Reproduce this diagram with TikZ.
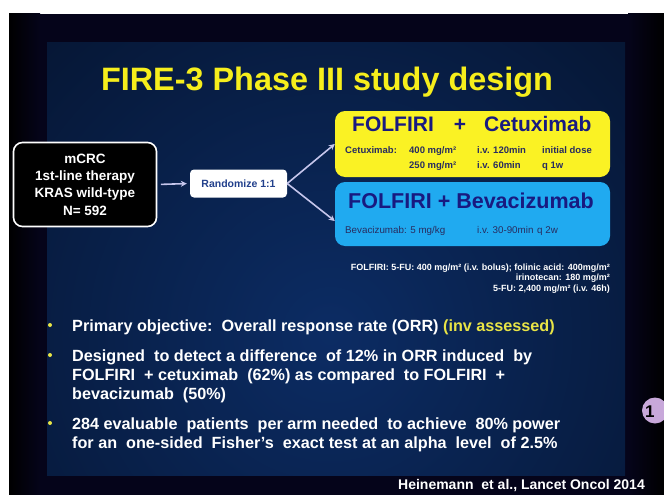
\documentclass[tikz,border=0pt]{standalone}
\usepackage{fontspec}
\setmainfont{Liberation Sans}
\usetikzlibrary{arrows.meta}

\definecolor{titleyellow}{RGB}{246,238,28}
\definecolor{armyellow}{RGB}{250,242,36}
\definecolor{armblue}{RGB}{32,170,240}
\definecolor{armtext}{RGB}{24,26,128}
\definecolor{detailtext}{RGB}{40,44,96}
\definecolor{randtext}{RGB}{34,64,140}
\definecolor{arrowlav}{RGB}{198,198,236}
\definecolor{bulletyellow}{RGB}{232,228,70}
\definecolor{slidedark}{RGB}{5,4,26}
\definecolor{panelin}{RGB}{12,44,100}
\definecolor{panelout}{RGB}{3,14,34}
\definecolor{badge}{RGB}{200,168,218}

% bold sans at a given size and line spacing
\newcommand{\setfs}[2]{\fontsize{#1}{#2}\selectfont\bfseries}

\tikzset{
  popbox/.style={draw=white, line width=1.6pt, rounded corners=9pt, fill=black,
    minimum width=143pt, minimum height=84pt, align=center, text=white,
    font=\setfs{13.5}{17.3}, inner sep=0pt},
  randbox/.style={fill=white, rounded corners=4pt, minimum width=97pt,
    minimum height=28pt, text=randtext, font=\setfs{10.5}{12}, inner sep=0pt},
  armbox/.style={rounded corners=10pt, minimum width=275pt, inner sep=0pt},
  armtitle/.style={text=armtext, font=\setfs{21}{24}, inner sep=0pt, anchor=base west},
  dosetext/.style={text=detailtext, font=\setfs{9.5}{11}, inner sep=0pt, anchor=base west},
  dosereg/.style={text=detailtext, font=\fontsize{9.8}{11}\selectfont, inner sep=0pt, anchor=base west},
  arr/.style={draw=arrowlav, line width=1.6pt, -{Stealth[length=6pt,width=6pt]}},
  bullettext/.style={text=white, font=\setfs{16.2}{19}, inner sep=0pt, anchor=base west, align=left},
  bulletdot/.style={fill=bulletyellow, circle, inner sep=0pt, minimum size=4pt},
}

\begin{document}
\begin{tikzpicture}[x=1pt,y=-1pt]
\useasboundingbox (0,0) rectangle (664,495);
\fill[white] (0,0) rectangle (664,495);

% slide background with darker side edges
\fill[slidedark] (9,14) rectangle (664,495);
\shade[left color=black, right color=slidedark] (9,14) rectangle (40,495);
\shade[left color=slidedark, right color=black] (628,14) rectangle (664,495);

% inner panel, lighter towards the middle
\begin{scope}
  \clip (47,43) rectangle (625,475);
  \fill[panelout] (47,43) rectangle (625,475);
  \shade[inner color=panelin, outer color=panelout] (330,335) circle (580);
\end{scope}

% title
\node[text=titleyellow, font=\setfs{32.4}{36}, inner sep=0pt, anchor=base] (title)
  at (327,91) {FIRE-3 Phase III study design};

% population and randomisation
\node[popbox] (pop) at (85,184.5) {mCRC\\1st-line therapy\\KRAS wild-type\\N= 592};
\node[randbox] (rand) at (238.5,183.5) {Randomize 1:1};

% treatment arms
\node[armbox, fill=armyellow, minimum height=66pt] (armA) at (472.5,144) {};
\node[armbox, fill=armblue, minimum height=64pt] (armB) at (472.5,214) {};

\draw[arr, shorten <=3.5pt, shorten >=3pt] (pop.east) -- (rand.west);
\draw[arr] (rand.east) -- (armA.west);
\draw[arr] (rand.east) -- ([yshift=-7pt]armB.west);

% arm A text
\node[armtitle] (aFol) at (352,131) {FOLFIRI};
\node[armtitle, anchor=base] (aPlus) at (460,131) {+};
\node[armtitle] (aCet) at (484,131) {Cetuximab};
\node[dosetext] (aD0) at (345,153) {Cetuximab:};
\node[dosetext] (aD1) at (409,153) {400 mg/m²};
\node[dosetext] (aD2) at (477,153) {i.v. 120min};
\node[dosetext] (aD3) at (542,153) {initial dose};
\node[dosetext] (aD4) at (409,168) {250 mg/m²};
\node[dosetext] (aD5) at (477,168) {i.v. 60min};
\node[dosetext] (aD6) at (542,168) {q 1w};

% arm B text
\node[armtitle, font=\setfs{21.5}{24}] (bTitle) at (348,208) {FOLFIRI + Bevacizumab};
\node[dosereg] (bD0) at (345,233) {Bevacizumab: 5 mg/kg};
\node[dosereg] (bD1) at (477,233) {i.v. 30-90min};
\node[dosereg] (bD2) at (537,233) {q 2w};

% FOLFIRI regimen footnote (base anchor sits on the last line)
\node[text=white, font=\setfs{9}{10.5}, inner sep=0pt, anchor=base east, align=right] (regimen)
  at (610,291) {FOLFIRI: 5-FU: 400 mg/m² (i.v. bolus); folinic acid: 400mg/m²\\
  irinotecan: 180 mg/m²\\5-FU: 2,400 mg/m² (i.v. 46h)};

% bullet list (base anchor sits on the last line of each item)
\node[bulletdot] (dot1) at (50,325) {};
\node[bullettext] (b1) at (72,331) {Primary objective:\ \ Overall response rate (ORR) \textcolor{bulletyellow}{(inv assessed)}};
\node[bulletdot] (dot2) at (50,355) {};
\node[bullettext] (b2) at (72,399) {Designed\ \ to detect a difference\ \ of 12\% in ORR induced\ \ by\\
  FOLFIRI\ \ + cetuximab\ \ (62\%) as compared\ \ to FOLFIRI\ \ +\\
  bevacizumab\ \ (50\%)};
\node[bulletdot] (dot3) at (50,423) {};
\node[bullettext] (b3) at (72,448) {284 evaluable\ \ patients\ \ per arm needed\ \ to achieve\ \ 80\% power\\
  for an\ \ one-sided\ \ Fisher's\ \ exact test at an alpha\ \ level\ \ of 2.5\%};

% reference
\node[text=white, font=\setfs{14}{16}, inner sep=0pt, anchor=base east] (cite)
  at (645,489) {Heinemann\ \ et al., Lancet Oncol 2014};

% slide number badge
\node[fill=badge, circle, minimum size=26pt, inner sep=0pt] (badgeC) at (655,410.5) {};
\node[text=black, font=\setfs{17}{19}, inner sep=0pt, anchor=base west] (badgeN) at (645,417) {1};
\end{tikzpicture}
\end{document}
